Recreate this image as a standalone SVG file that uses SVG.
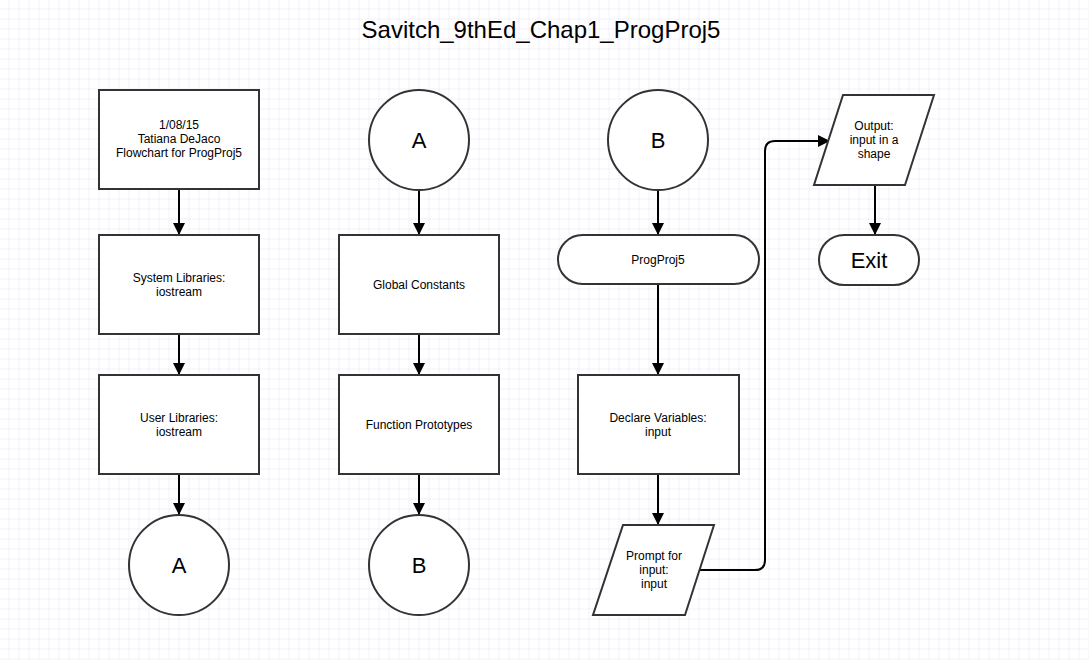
<svg xmlns="http://www.w3.org/2000/svg" width="1089" height="660" viewBox="0 0 1089 660">
<defs>
<pattern id="grid" width="10" height="10" patternUnits="userSpaceOnUse" x="-0.5" y="-0.5">
<path d="M10 0V10M0 10H10" fill="none" stroke="#e6e3f7" stroke-width="1"/>
</pattern>
<marker id="arr" viewBox="0 0 12 12" refX="11" refY="6" markerWidth="6" markerHeight="6" orient="auto" markerUnits="strokeWidth">
<path d="M0 0L12 6L0 12Z" fill="#000"/>
</marker>
<style>
.shape{fill:#fff;stroke:#333;stroke-width:2}
.t{font-family:"Liberation Sans",Arial,sans-serif;font-size:12px;fill:#000;text-anchor:middle}
.big{font-family:"Liberation Sans",Arial,sans-serif;font-size:22px;fill:#000;text-anchor:middle}
.c{fill:none;stroke:#000;stroke-width:2;marker-end:url(#arr)}
</style>
</defs>
<rect width="1089" height="660" fill="#fff"/>
<rect width="1089" height="660" fill="url(#grid)"/>
<text class="big" x="541" y="38" style="font-size:24px">Savitch_9thEd_Chap1_ProgProj5</text>
<g id="connectors">
<path class="c" d="M179 190V234"/>
<path class="c" d="M179 335V374"/>
<path class="c" d="M179 475V514"/>
<path class="c" d="M419 191V234"/>
<path class="c" d="M419 335V374"/>
<path class="c" d="M419 475V514"/>
<path class="c" d="M658 191V234"/>
<path class="c" d="M658 285V374"/>
<path class="c" d="M658 475V524"/>
<path class="c" d="M700 570H755Q765 570 765 560V151Q765 141 775 141H829"/>
<path class="c" d="M875 185V234"/>
</g>
<g id="info"><rect class="shape" x="99" y="90" width="160" height="99"/><text class="t" x="179" y="129">1/08/15</text><text class="t" x="179" y="143">Tatiana DeJaco</text><text class="t" x="179" y="157">Flowchart for ProgProj5</text></g>
<g id="syslib"><rect class="shape" x="99" y="235" width="160" height="99"/><text class="t" x="179" y="282">System Libraries:</text><text class="t" x="179" y="296">iostream</text></g>
<g id="userlib"><rect class="shape" x="99" y="375" width="160" height="99"/><text class="t" x="179" y="422">User Libraries:</text><text class="t" x="179" y="436">iostream</text></g>
<g id="connA1"><circle class="shape" cx="179" cy="565" r="50"/><text class="big" x="179" y="573">A</text></g>
<g id="connA2"><circle class="shape" cx="419" cy="140" r="50"/><text class="big" x="419" y="148">A</text></g>
<g id="globals"><rect class="shape" x="339" y="235" width="160" height="99"/><text class="t" x="419" y="289">Global Constants</text></g>
<g id="protos"><rect class="shape" x="339" y="375" width="160" height="99"/><text class="t" x="419" y="429">Function Prototypes</text></g>
<g id="connB1"><circle class="shape" cx="419" cy="565" r="50"/><text class="big" x="419" y="573">B</text></g>
<g id="connB2"><circle class="shape" cx="658" cy="140" r="50"/><text class="big" x="658" y="148">B</text></g>
<g id="start"><rect class="shape" x="558" y="235" width="201" height="49" rx="24.5"/><text class="t" x="658" y="264">ProgProj5</text></g>
<g id="declare"><rect class="shape" x="578" y="375" width="161" height="99"/><text class="t" x="658" y="422">Declare Variables:</text><text class="t" x="658" y="436">input</text></g>
<g id="prompt"><polygon class="shape" points="623,525 714,525 685,615 593,615"/><text class="t" x="654" y="560">Prompt for</text><text class="t" x="654" y="574">input:</text><text class="t" x="654" y="588">input</text></g>
<g id="output"><polygon class="shape" points="843,95 934,95 905,185 814,185"/><text class="t" x="874" y="130">Output:</text><text class="t" x="874" y="144">input in a</text><text class="t" x="874" y="158">shape</text></g>
<g id="exit"><rect class="shape" x="819" y="235" width="100" height="50" rx="25"/><text class="big" x="869" y="268">Exit</text></g>
</svg>
